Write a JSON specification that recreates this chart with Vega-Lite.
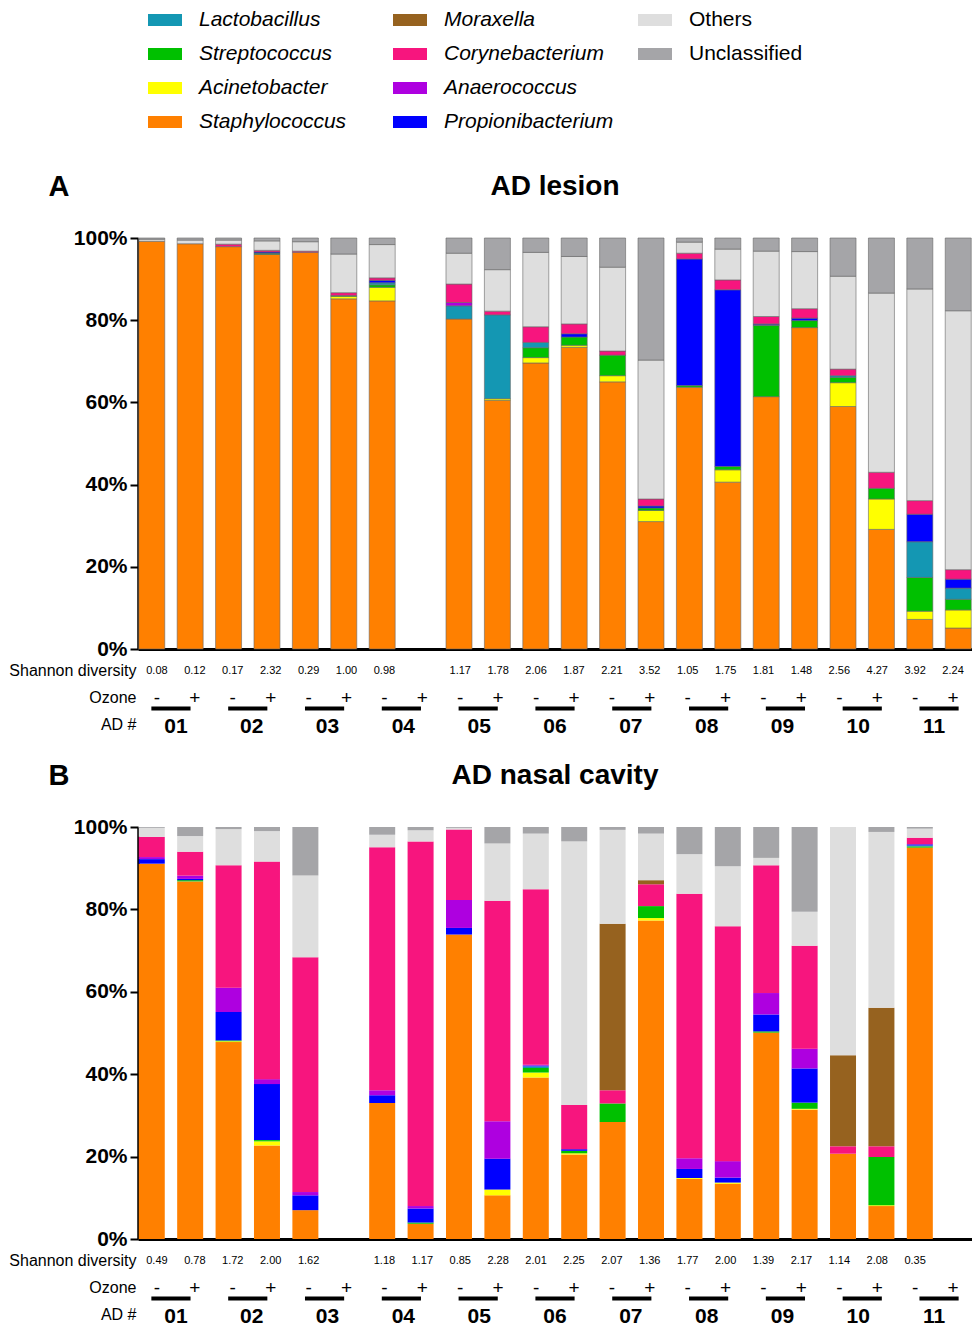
{
  "$schema": "https://vega.github.io/schema/vega-lite/v6.json",
  "padding": {"left": 8, "top": 3, "right": 0, "bottom": 0},
  "config": {
    "view": {"stroke": null},
    "font": "Liberation Sans",
    "text": {"color": "black"},
    "title": {"color": "black"}
  },
  "datasets": {
    "A": [
      {"id":"01 -","sh":0.08,"Staphylococcus":99.2,"Others":0.5,"Unclassified":0.3},
      {"id":"01 +","sh":0.12,"Staphylococcus":98.6,"Others":0.9,"Unclassified":0.5},
      {"id":"02 -","sh":0.17,"Staphylococcus":97.9,"Corynebacterium":0.6,"Others":1.0,"Unclassified":0.5},
      {"id":"02 +","sh":2.32,"Staphylococcus":96.0,"Streptococcus":0.3,"Propionibacterium":0.3,"Corynebacterium":0.4,"Others":2.3,"Unclassified":0.7},
      {"id":"03 -","sh":0.29,"Staphylococcus":96.5,"Corynebacterium":0.3,"Others":2.3,"Unclassified":0.9},
      {"id":"03 +","sh":1.00,"Staphylococcus":85.2,"Acinetobacter":0.6,"Streptococcus":0.2,"Corynebacterium":0.7,"Others":9.4,"Unclassified":3.9},
      {"id":"04 -","sh":0.98,"Staphylococcus":84.7,"Acinetobacter":3.3,"Streptococcus":0.6,"Lactobacillus":0.5,"Propionibacterium":0.6,"Corynebacterium":0.6,"Others":8.1,"Unclassified":1.6},
      {"id":"05 -","sh":1.17,"Staphylococcus":80.3,"Lactobacillus":3.2,"Anaerococcus":0.8,"Corynebacterium":4.5,"Others":7.5,"Unclassified":3.7},
      {"id":"05 +","sh":1.78,"Staphylococcus":60.5,"Acinetobacter":0.4,"Lactobacillus":20.4,"Corynebacterium":0.9,"Others":10.1,"Unclassified":7.7},
      {"id":"06 -","sh":2.06,"Staphylococcus":69.6,"Acinetobacter":1.3,"Streptococcus":2.4,"Lactobacillus":1.3,"Corynebacterium":3.8,"Others":18.1,"Unclassified":3.5},
      {"id":"06 +","sh":1.87,"Staphylococcus":73.4,"Acinetobacter":0.5,"Streptococcus":2.0,"Propionibacterium":0.8,"Corynebacterium":2.4,"Others":16.4,"Unclassified":4.5},
      {"id":"07 -","sh":2.21,"Staphylococcus":65.0,"Acinetobacter":1.5,"Streptococcus":5.0,"Corynebacterium":1.0,"Others":20.4,"Unclassified":7.1},
      {"id":"07 +","sh":3.52,"Staphylococcus":31.0,"Acinetobacter":2.7,"Streptococcus":0.6,"Propionibacterium":0.5,"Corynebacterium":1.7,"Others":33.8,"Unclassified":29.7},
      {"id":"08 -","sh":1.05,"Staphylococcus":63.7,"Streptococcus":0.4,"Propionibacterium":30.8,"Corynebacterium":1.4,"Others":2.7,"Unclassified":1.0},
      {"id":"08 +","sh":1.75,"Staphylococcus":40.6,"Acinetobacter":3.0,"Streptococcus":0.8,"Propionibacterium":43.0,"Corynebacterium":2.4,"Others":7.5,"Unclassified":2.7},
      {"id":"09 -","sh":1.81,"Staphylococcus":61.4,"Streptococcus":17.3,"Lactobacillus":0.2,"Propionibacterium":0.2,"Corynebacterium":1.8,"Others":15.9,"Unclassified":3.2},
      {"id":"09 +","sh":1.48,"Staphylococcus":78.2,"Streptococcus":1.7,"Propionibacterium":0.6,"Corynebacterium":2.3,"Others":13.9,"Unclassified":3.3},
      {"id":"10 -","sh":2.56,"Staphylococcus":59.0,"Acinetobacter":5.8,"Streptococcus":1.3,"Lactobacillus":0.4,"Corynebacterium":1.6,"Others":22.6,"Unclassified":9.3},
      {"id":"10 +","sh":4.27,"Staphylococcus":29.1,"Acinetobacter":7.4,"Streptococcus":2.6,"Corynebacterium":3.9,"Others":43.6,"Unclassified":13.4},
      {"id":"11 -","sh":3.92,"Staphylococcus":7.2,"Acinetobacter":2.0,"Streptococcus":8.2,"Lactobacillus":8.7,"Propionibacterium":6.7,"Corynebacterium":3.3,"Others":51.5,"Unclassified":12.4},
      {"id":"11 +","sh":2.24,"Staphylococcus":5.1,"Acinetobacter":4.4,"Streptococcus":2.6,"Lactobacillus":2.7,"Propionibacterium":2.2,"Corynebacterium":2.3,"Others":63.0,"Unclassified":17.7}
    ],
    "B": [
      {"id":"01 -","sh":0.49,"Staphylococcus":91.1,"Propionibacterium":1.1,"Anaerococcus":0.5,"Corynebacterium":4.9,"Others":2.2,"Unclassified":0.2},
      {"id":"01 +","sh":0.78,"Staphylococcus":86.8,"Streptococcus":0.3,"Propionibacterium":0.3,"Anaerococcus":0.8,"Corynebacterium":5.8,"Others":3.8,"Unclassified":2.2},
      {"id":"02 -","sh":1.72,"Staphylococcus":47.8,"Acinetobacter":0.2,"Streptococcus":0.2,"Propionibacterium":6.9,"Anaerococcus":5.9,"Corynebacterium":29.7,"Others":8.8,"Unclassified":0.5},
      {"id":"02 +","sh":2.00,"Staphylococcus":22.7,"Acinetobacter":1.0,"Streptococcus":0.3,"Propionibacterium":13.6,"Anaerococcus":1.2,"Corynebacterium":52.8,"Others":7.4,"Unclassified":1.0},
      {"id":"03 -","sh":1.62,"Staphylococcus":7.0,"Propionibacterium":3.6,"Anaerococcus":0.8,"Corynebacterium":57.0,"Others":19.8,"Unclassified":11.8},
      {"id":"04 -","sh":1.18,"Staphylococcus":33.0,"Propionibacterium":1.9,"Anaerococcus":1.2,"Corynebacterium":59.0,"Others":3.0,"Unclassified":1.9},
      {"id":"04 +","sh":1.17,"Staphylococcus":3.7,"Streptococcus":0.3,"Propionibacterium":3.4,"Anaerococcus":0.6,"Corynebacterium":88.5,"Others":2.7,"Unclassified":0.8},
      {"id":"05 -","sh":0.85,"Staphylococcus":73.9,"Propionibacterium":1.6,"Anaerococcus":6.8,"Corynebacterium":17.1,"Others":0.4,"Unclassified":0.2},
      {"id":"05 +","sh":2.28,"Staphylococcus":10.6,"Acinetobacter":1.4,"Propionibacterium":7.5,"Anaerococcus":9.1,"Corynebacterium":53.5,"Others":13.9,"Unclassified":4.0},
      {"id":"06 -","sh":2.01,"Staphylococcus":39.2,"Acinetobacter":1.2,"Streptococcus":1.1,"Lactobacillus":0.4,"Propionibacterium":0.2,"Anaerococcus":0.2,"Corynebacterium":42.6,"Others":13.5,"Unclassified":1.6},
      {"id":"06 +","sh":2.25,"Staphylococcus":20.5,"Acinetobacter":0.3,"Streptococcus":0.6,"Propionibacterium":0.4,"Corynebacterium":10.7,"Others":64.0,"Unclassified":3.5},
      {"id":"07 -","sh":2.07,"Staphylococcus":28.4,"Streptococcus":4.5,"Corynebacterium":3.2,"Moraxella":40.4,"Others":22.8,"Unclassified":0.7},
      {"id":"07 +","sh":1.36,"Staphylococcus":77.3,"Acinetobacter":0.6,"Streptococcus":2.9,"Corynebacterium":5.3,"Moraxella":1.0,"Others":11.3,"Unclassified":1.6},
      {"id":"08 -","sh":1.77,"Staphylococcus":14.6,"Acinetobacter":0.2,"Propionibacterium":2.2,"Anaerococcus":2.6,"Corynebacterium":64.2,"Others":9.6,"Unclassified":6.6},
      {"id":"08 +","sh":2.00,"Staphylococcus":13.4,"Acinetobacter":0.3,"Propionibacterium":1.2,"Anaerococcus":4.0,"Corynebacterium":57.0,"Others":14.6,"Unclassified":9.5},
      {"id":"09 -","sh":1.39,"Staphylococcus":50.1,"Streptococcus":0.3,"Propionibacterium":4.1,"Anaerococcus":5.2,"Corynebacterium":31.0,"Others":1.8,"Unclassified":7.5},
      {"id":"09 +","sh":2.17,"Staphylococcus":31.4,"Acinetobacter":0.2,"Streptococcus":1.5,"Propionibacterium":8.3,"Anaerococcus":4.8,"Corynebacterium":25.0,"Others":8.2,"Unclassified":20.6},
      {"id":"10 -","sh":1.14,"Staphylococcus":20.7,"Corynebacterium":1.8,"Moraxella":22.1,"Others":55.4},
      {"id":"10 +","sh":2.08,"Staphylococcus":8.0,"Acinetobacter":0.2,"Streptococcus":11.7,"Corynebacterium":2.6,"Moraxella":33.6,"Others":42.7,"Unclassified":1.2},
      {"id":"11 -","sh":0.35,"Staphylococcus":95.0,"Streptococcus":0.3,"Lactobacillus":0.2,"Propionibacterium":0.3,"Corynebacterium":1.6,"Others":2.2,"Unclassified":0.4}
    ],
    "slots": [
      {"id":"01 -","pt":"01","oz":"-"},{"id":"01 +","pt":"01","oz":"+"},
      {"id":"02 -","pt":"02","oz":"-"},{"id":"02 +","pt":"02","oz":"+"},
      {"id":"03 -","pt":"03","oz":"-"},{"id":"03 +","pt":"03","oz":"+"},
      {"id":"04 -","pt":"04","oz":"-"},{"id":"04 +","pt":"04","oz":"+"},
      {"id":"05 -","pt":"05","oz":"-"},{"id":"05 +","pt":"05","oz":"+"},
      {"id":"06 -","pt":"06","oz":"-"},{"id":"06 +","pt":"06","oz":"+"},
      {"id":"07 -","pt":"07","oz":"-"},{"id":"07 +","pt":"07","oz":"+"},
      {"id":"08 -","pt":"08","oz":"-"},{"id":"08 +","pt":"08","oz":"+"},
      {"id":"09 -","pt":"09","oz":"-"},{"id":"09 +","pt":"09","oz":"+"},
      {"id":"10 -","pt":"10","oz":"-"},{"id":"10 +","pt":"10","oz":"+"},
      {"id":"11 -","pt":"11","oz":"-"},{"id":"11 +","pt":"11","oz":"+"}
    ]
  },
  "resolve": {"scale": {"x": "independent", "y": "independent", "color": "shared"}},
  "spacing": 23,
  "vconcat": [
    {
      "bounds": "flush",
      "spacing": 8,
      "resolve": {"scale": {"x": "independent", "y": "independent", "color": "shared"}},
      "vconcat": [
        {
          "width": 834,
          "height": 411,
          "data": {"name": "A"},
          "title": {"text": "AD lesion", "fontSize": 28, "fontWeight": "bold", "anchor": "middle", "baseline": "alphabetic", "frame": "group", "offset": -51},
          "transform": [
            {"fold": ["Staphylococcus","Acinetobacter","Streptococcus","Lactobacillus","Propionibacterium","Anaerococcus","Corynebacterium","Moraxella","Others","Unclassified"], "as": ["g","v"]},
            {"filter": "datum.v > 0"},
            {"calculate": "indexof(['Staphylococcus','Acinetobacter','Streptococcus','Lactobacillus','Propionibacterium','Anaerococcus','Corynebacterium','Moraxella','Others','Unclassified'], datum.g)", "as": "o"}
          ],
          "mark": {"type": "bar", "stroke": "#666666", "strokeWidth": 0.6},
          "encoding": {
            "x": {"field": "id", "type": "nominal",
              "scale": {"domain": ["01 -","01 +","02 -","02 +","03 -","03 +","04 -","04 +","05 -","05 +","06 -","06 +","07 -","07 +","08 -","08 +","09 -","09 +","10 -","10 +","11 -","11 +"], "paddingInner": 0.323, "paddingOuter": 0.02},
              "axis": {"labels": false, "ticks": false, "title": null, "domainColor": "black", "domainWidth": 3}},
            "y": {"field": "v", "type": "quantitative", "stack": "zero",
              "scale": {"domain": [0, 100], "nice": false},
              "axis": {"values": [0,20,40,60,80,100], "labelExpr": "datum.value + '%'", "grid": false,
                "title": "A", "titleAngle": 0, "titleFontSize": 29, "titleFontWeight": "bold", "titleX": -90, "titleY": -43, "titleAlign": "left", "titleBaseline": "alphabetic", "titleColor": "black",
                "labelFontSize": 21, "labelFontWeight": "bold", "labelColor": "black", "labelPadding": 3,
                "tickSize": 8, "tickWidth": 2, "tickColor": "black", "domainWidth": 2.5, "domainColor": "black"}},
            "color": {"field": "g", "type": "nominal",
              "scale": {"domain": ["Lactobacillus","Streptococcus","Acinetobacter","Staphylococcus","Moraxella","Corynebacterium","Anaerococcus","Propionibacterium","Others","Unclassified"," ","  "],
                        "range": ["#1497b3","#00c000","#ffff00","#ff8000","#96621f","#f7157e","#ae00e0","#0000ff","#dedede","#a5a5a8","#ffffff","#ffffff"]},
              "legend": {"orient": "none", "legendX": 10, "legendY": -235, "columns": 3, "title": null, "padding": 0,
                "symbolType": "M-1,-0.35H1V0.35H-1Z", "symbolSize": 1156, "symbolStrokeWidth": 0,
                "labelFont": "Liberation Sans", "labelFontSize": 21, "labelFontStyle": "italic", "labelColor": "black", "labelOffset": 17, "labelLimit": 300,
                "columnPadding": 24, "rowPadding": 7, "gridAlign": "all",
                "encode": {"labels": {"update": {"fontStyle": {"signal": "indexof(['Others','Unclassified'], datum.label) >= 0 ? 'normal' : 'italic'"}}}}}},
            "order": {"field": "o", "type": "quantitative"}
          }
        },
        {
          "width": 834,
          "height": 81,
          "resolve": {"scale": {"x": "independent"}},
          "layer": [
            {
              "data": {"name": "A"},
              "mark": {"type": "text", "fontSize": 11, "font": "Liberation Sans Narrow, Liberation Sans"},
              "encoding": {
                "x": {"field": "id", "type": "nominal", "axis": null,
                  "scale": {"domain": ["01 -","01 +","02 -","02 +","03 -","03 +","04 -","04 +","05 -","05 +","06 -","06 +","07 -","07 +","08 -","08 +","09 -","09 +","10 -","10 +","11 -","11 +"], "paddingInner": 0.323, "paddingOuter": 0.02}},
                "y": {"datum": "Shannon diversity", "type": "nominal",
                  "scale": {"type": "point", "domain": ["Shannon diversity","Ozone","AD #"], "padding": 0.5},
                  "axis": {"domain": false, "ticks": false, "title": null, "labelFontSize": 16, "labelColor": "black", "labelPadding": 2}},
                "text": {"field": "sh", "format": ".2f"}
              }
            },
            {
              "data": {"name": "slots"},
              "mark": {"type": "text", "fontSize": 19},
              "encoding": {
                "x": {"field": "id", "type": "nominal", "axis": null,
                  "scale": {"domain": ["01 -","01 +","02 -","02 +","03 -","03 +","04 -","04 +","05 -","05 +","06 -","06 +","07 -","07 +","08 -","08 +","09 -","09 +","10 -","10 +","11 -","11 +"], "paddingInner": 0.323, "paddingOuter": 0.02}},
                "y": {"datum": "Ozone", "type": "nominal"},
                "text": {"field": "oz"}
              }
            },
            {
              "data": {"name": "slots"},
              "transform": [{"filter": "datum.oz == '-'"}],
              "mark": {"type": "bar", "color": "black", "height": 4, "yOffset": 11},
              "encoding": {
                "x": {"field": "pt", "type": "nominal", "axis": null,
                  "scale": {"domain": ["01","02","03","04","05","06","07","08","09","10","11"], "paddingInner": 0.49, "paddingOuter": 0.174}},
                "y": {"datum": "Ozone", "type": "nominal"}
              }
            },
            {
              "data": {"name": "slots"},
              "transform": [{"filter": "datum.oz == '-'"}],
              "mark": {"type": "text", "fontSize": 21, "fontWeight": "bold", "dy": 2},
              "encoding": {
                "x": {"field": "pt", "type": "nominal", "axis": null,
                  "scale": {"domain": ["01","02","03","04","05","06","07","08","09","10","11"], "paddingInner": 0.49, "paddingOuter": 0.174}},
                "y": {"datum": "AD #", "type": "nominal"},
                "text": {"field": "pt"}
              }
            }
          ]
        }
      ]
    },
    {
      "bounds": "flush",
      "spacing": 8,
      "resolve": {"scale": {"x": "independent", "y": "independent", "color": "shared"}},
      "vconcat": [
        {
          "width": 834,
          "height": 412,
          "data": {"name": "B"},
          "title": {"text": "AD nasal cavity", "fontSize": 28, "fontWeight": "bold", "anchor": "middle", "baseline": "alphabetic", "frame": "group", "offset": -51},
          "transform": [
            {"fold": ["Staphylococcus","Acinetobacter","Streptococcus","Lactobacillus","Propionibacterium","Anaerococcus","Corynebacterium","Moraxella","Others","Unclassified"], "as": ["g","v"]},
            {"filter": "datum.v > 0"},
            {"calculate": "indexof(['Staphylococcus','Acinetobacter','Streptococcus','Lactobacillus','Propionibacterium','Anaerococcus','Corynebacterium','Moraxella','Others','Unclassified'], datum.g)", "as": "o"}
          ],
          "mark": {"type": "bar"},
          "encoding": {
            "x": {"field": "id", "type": "nominal",
              "scale": {"domain": ["01 -","01 +","02 -","02 +","03 -","03 +","04 -","04 +","05 -","05 +","06 -","06 +","07 -","07 +","08 -","08 +","09 -","09 +","10 -","10 +","11 -","11 +"], "paddingInner": 0.323, "paddingOuter": 0.02},
              "axis": {"labels": false, "ticks": false, "title": null, "domainColor": "black", "domainWidth": 3}},
            "y": {"field": "v", "type": "quantitative", "stack": "zero",
              "scale": {"domain": [0, 100], "nice": false},
              "axis": {"values": [0,20,40,60,80,100], "labelExpr": "datum.value + '%'", "grid": false,
                "title": "B", "titleAngle": 0, "titleFontSize": 29, "titleFontWeight": "bold", "titleX": -90, "titleY": -43, "titleAlign": "left", "titleBaseline": "alphabetic", "titleColor": "black",
                "labelFontSize": 21, "labelFontWeight": "bold", "labelColor": "black", "labelPadding": 3,
                "tickSize": 8, "tickWidth": 2, "tickColor": "black", "domainWidth": 2.5, "domainColor": "black"}},
            "color": {"field": "g", "type": "nominal",
              "scale": {"domain": ["Lactobacillus","Streptococcus","Acinetobacter","Staphylococcus","Moraxella","Corynebacterium","Anaerococcus","Propionibacterium","Others","Unclassified"," ","  "],
                        "range": ["#1497b3","#00c000","#ffff00","#ff8000","#96621f","#f7157e","#ae00e0","#0000ff","#dedede","#a5a5a8","#ffffff","#ffffff"]},
              "legend": {"orient": "none", "legendX": 10, "legendY": -235, "columns": 3, "title": null, "padding": 0,
                "symbolType": "M-1,-0.35H1V0.35H-1Z", "symbolSize": 1156, "symbolStrokeWidth": 0,
                "labelFont": "Liberation Sans", "labelFontSize": 21, "labelFontStyle": "italic", "labelColor": "black", "labelOffset": 17, "labelLimit": 300,
                "columnPadding": 24, "rowPadding": 7, "gridAlign": "all",
                "encode": {"labels": {"update": {"fontStyle": {"signal": "indexof(['Others','Unclassified'], datum.label) >= 0 ? 'normal' : 'italic'"}}}}}},
            "order": {"field": "o", "type": "quantitative"}
          }
        },
        {
          "width": 834,
          "height": 81,
          "resolve": {"scale": {"x": "independent"}},
          "layer": [
            {
              "data": {"name": "B"},
              "mark": {"type": "text", "fontSize": 11, "font": "Liberation Sans Narrow, Liberation Sans"},
              "encoding": {
                "x": {"field": "id", "type": "nominal", "axis": null,
                  "scale": {"domain": ["01 -","01 +","02 -","02 +","03 -","03 +","04 -","04 +","05 -","05 +","06 -","06 +","07 -","07 +","08 -","08 +","09 -","09 +","10 -","10 +","11 -","11 +"], "paddingInner": 0.323, "paddingOuter": 0.02}},
                "y": {"datum": "Shannon diversity", "type": "nominal",
                  "scale": {"type": "point", "domain": ["Shannon diversity","Ozone","AD #"], "padding": 0.5},
                  "axis": {"domain": false, "ticks": false, "title": null, "labelFontSize": 16, "labelColor": "black", "labelPadding": 2}},
                "text": {"field": "sh", "format": ".2f"}
              }
            },
            {
              "data": {"name": "slots"},
              "mark": {"type": "text", "fontSize": 19},
              "encoding": {
                "x": {"field": "id", "type": "nominal", "axis": null,
                  "scale": {"domain": ["01 -","01 +","02 -","02 +","03 -","03 +","04 -","04 +","05 -","05 +","06 -","06 +","07 -","07 +","08 -","08 +","09 -","09 +","10 -","10 +","11 -","11 +"], "paddingInner": 0.323, "paddingOuter": 0.02}},
                "y": {"datum": "Ozone", "type": "nominal"},
                "text": {"field": "oz"}
              }
            },
            {
              "data": {"name": "slots"},
              "transform": [{"filter": "datum.oz == '-'"}],
              "mark": {"type": "bar", "color": "black", "height": 4, "yOffset": 11},
              "encoding": {
                "x": {"field": "pt", "type": "nominal", "axis": null,
                  "scale": {"domain": ["01","02","03","04","05","06","07","08","09","10","11"], "paddingInner": 0.49, "paddingOuter": 0.174}},
                "y": {"datum": "Ozone", "type": "nominal"}
              }
            },
            {
              "data": {"name": "slots"},
              "transform": [{"filter": "datum.oz == '-'"}],
              "mark": {"type": "text", "fontSize": 21, "fontWeight": "bold", "dy": 2},
              "encoding": {
                "x": {"field": "pt", "type": "nominal", "axis": null,
                  "scale": {"domain": ["01","02","03","04","05","06","07","08","09","10","11"], "paddingInner": 0.49, "paddingOuter": 0.174}},
                "y": {"datum": "AD #", "type": "nominal"},
                "text": {"field": "pt"}
              }
            }
          ]
        }
      ]
    }
  ]
}
